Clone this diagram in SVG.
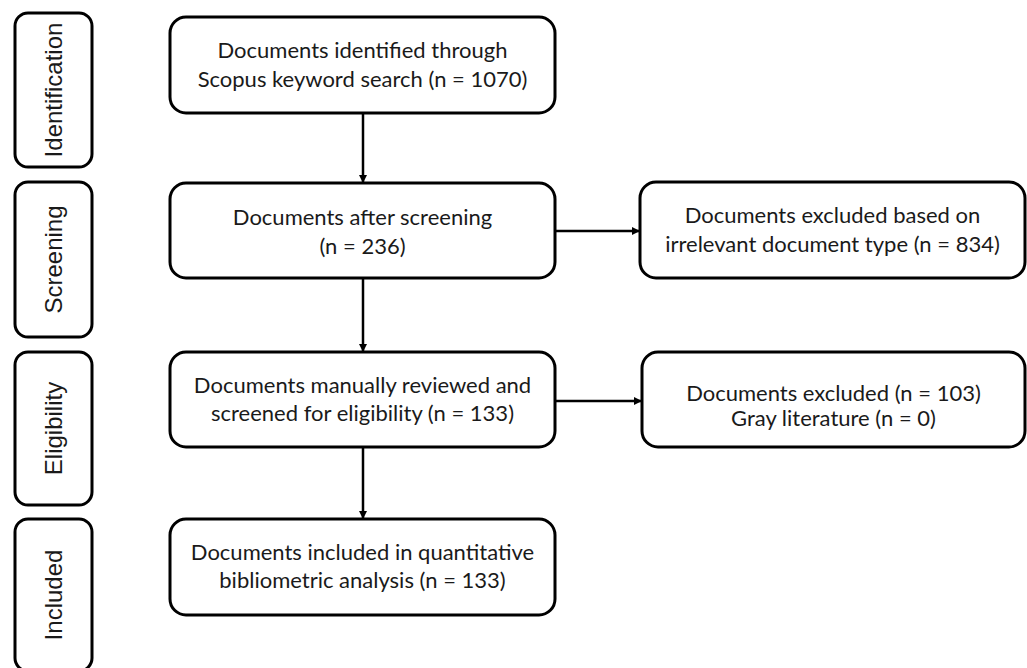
<svg xmlns="http://www.w3.org/2000/svg" width="1027" height="668" viewBox="0 0 1027 668">
  <defs>
    <marker id="arrow" viewBox="0 0 10 10" refX="10" refY="5" markerWidth="8" markerHeight="8" markerUnits="userSpaceOnUse" orient="auto">
      <path d="M0,0 L10,5 L0,10 z" fill="#000"/>
    </marker>
    <style>
      .box { fill: #fff; stroke: #000; stroke-width: 3; }
      .stage { fill: #fff; stroke: #000; stroke-width: 3; }
      .txt { font-family: Lato, "Open Sans", sans-serif; font-size: 22px; fill: #1a1a1a; text-anchor: middle; }
      .lbl { font-family: "Liberation Sans", Arial, sans-serif; font-size: 24px; fill: #1a1a1a; text-anchor: middle; }
      .conn { stroke: #000; stroke-width: 2.5; fill: none; marker-end: url(#arrow); }
    </style>
  </defs>
  <rect width="1027" height="668" fill="#fff"/>

  <!-- stage labels -->
  <g id="stage-identification">
    <rect class="stage" x="15" y="13" width="77" height="154" rx="13"/>
    <text class="lbl" transform="translate(62,90) rotate(-90)">Identification</text>
  </g>
  <g id="stage-screening">
    <rect class="stage" x="15" y="182" width="77" height="155" rx="13"/>
    <text class="lbl" transform="translate(62,259.5) rotate(-90)">Screening</text>
  </g>
  <g id="stage-eligibility">
    <rect class="stage" x="15" y="352" width="77" height="153" rx="13"/>
    <text class="lbl" transform="translate(62,428.5) rotate(-90)">Eligibility</text>
  </g>
  <g id="stage-included">
    <rect class="stage" x="15" y="519" width="77" height="152" rx="13"/>
    <text class="lbl" transform="translate(62,595) rotate(-90)">Included</text>
  </g>

  <!-- connectors -->
  <g id="connectors">
    <line class="conn" x1="363" y1="113" x2="363" y2="183"/>
    <line class="conn" x1="363" y1="278" x2="363" y2="352"/>
    <line class="conn" x1="363" y1="447" x2="363" y2="519"/>
    <line class="conn" x1="555" y1="231" x2="640" y2="231"/>
    <line class="conn" x1="555" y1="401" x2="642" y2="401"/>
  </g>

  <!-- flow boxes -->
  <g id="identified">
    <rect class="box" x="170" y="17" width="385" height="96" rx="16"/>
    <text class="txt" x="362.5" y="58">Documents identified through</text>
    <text class="txt" x="362.5" y="87">Scopus keyword search (n = 1070)</text>
  </g>
  <g id="screened">
    <rect class="box" x="170" y="183" width="385" height="95" rx="16"/>
    <text class="txt" x="362.5" y="225">Documents after screening</text>
    <text class="txt" x="362.5" y="254">(n = 236)</text>
  </g>
  <g id="excluded-type">
    <rect class="box" x="640" y="182" width="385" height="96" rx="16"/>
    <text class="txt" x="832.5" y="223">Documents excluded based on</text>
    <text class="txt" x="832.5" y="252">irrelevant document type (n = 834)</text>
  </g>
  <g id="reviewed">
    <rect class="box" x="170" y="352" width="385" height="95" rx="16"/>
    <text class="txt" x="362.5" y="393">Documents manually reviewed and</text>
    <text class="txt" x="362.5" y="421">screened for eligibility (n = 133)</text>
  </g>
  <g id="excluded">
    <rect class="box" x="642" y="352" width="383" height="95" rx="16"/>
    <text class="txt" x="833.5" y="401">Documents excluded (n = 103)</text>
    <text class="txt" x="833.5" y="426">Gray literature (n = 0)</text>
  </g>
  <g id="included">
    <rect class="box" x="170" y="519" width="385" height="96" rx="16"/>
    <text class="txt" x="362.5" y="560">Documents included in quantitative</text>
    <text class="txt" x="362.5" y="588">bibliometric analysis (n = 133)</text>
  </g>
</svg>
